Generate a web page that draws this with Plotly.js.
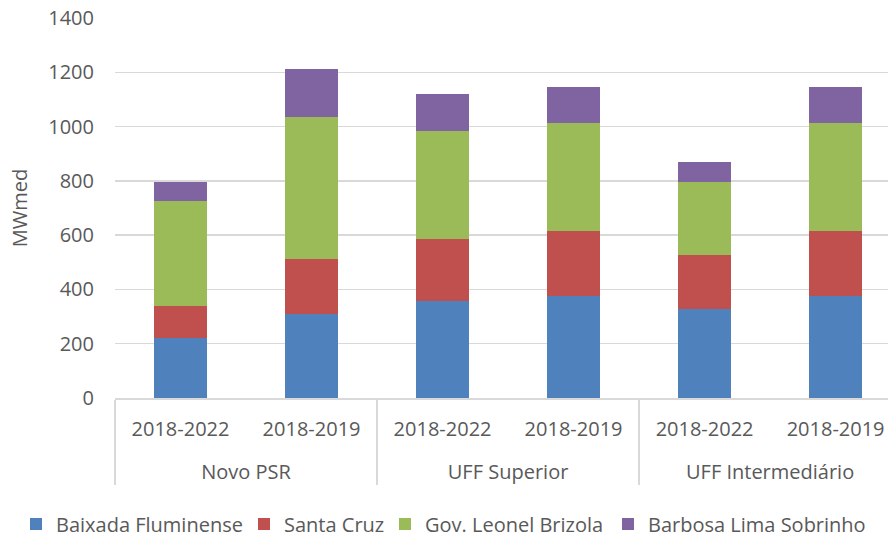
<!DOCTYPE html>
<html>
<head>
<meta charset="utf-8">
<script src="https://cdn.plot.ly/plotly-3.0.1.min.js"></script>
<style>html,body{margin:0;padding:0;background:#fff;}#chart{width:888px;height:540px;}</style>
</head>
<body>
<div id="chart"></div>
<script>
var groups = ["Novo PSR", "Novo PSR", "UFF Superior", "UFF Superior", "UFF Intermediário", "UFF Intermediário"];
var periods = ["2018-2022", "2018-2019", "2018-2022", "2018-2019", "2018-2022", "2018-2019"];
var seriesNames = ["Baixada Fluminense", "Santa Cruz", "Gov. Leonel Brizola", "Barbosa Lima Sobrinho"];
var baixada = [220, 310, 358, 376, 327, 376];
var santaCruz = [120, 201, 229, 240, 200, 240];
var brizola = [386, 524, 398, 396, 270, 396];
var barbosa = [70, 176, 135, 133, 74, 133];
var yTicks = [0, 200, 400, 600, 800, 1000, 1200, 1400];

var colors = ["#4f81bd", "#c0504d", "#9bbb59", "#8064a2"];
var values = [baixada, santaCruz, brizola, barbosa];
var FONT = "Open Sans, sans-serif";
var TXT = "#595959";
var W = 888, H = 540;

var periodLabels = periods.map(function (p) { return p + "<br> "; });
var legendIds = ["legend", "legend2", "legend3", "legend4"];
var legendTextX = [57, 285, 426, 649];

var traces = values.map(function (v, i) {
  return {
    type: "bar",
    name: seriesNames[i],
    legend: legendIds[i],
    x: [groups, periodLabels],
    y: v,
    width: 0.4,
    marker: { color: colors[i], line: { width: 0 } },
    hoverinfo: "y+name"
  };
});

var layout = {
  width: W,
  height: H,
  barmode: "stack",
  paper_bgcolor: "#ffffff",
  plot_bgcolor: "#ffffff",
  margin: { l: 115, r: 0, t: 18, b: 142 },
  font: { family: FONT, size: 20, color: TXT },
  xaxis: {
    type: "multicategory",
    range: [-0.5, 5.4],
    showline: true,
    linecolor: "#d9d9d9",
    linewidth: 1.5,
    showgrid: false,
    ticks: "",
    ticklabelstandoff: 12,
    tickfont: { family: FONT, size: 20, color: TXT },
    showdividers: true,
    dividercolor: "#d9d9d9",
    dividerwidth: 1.5
  },
  yaxis: {
    range: [0, 1400],
    tickvals: yTicks,
    ticktext: yTicks.map(String),
    showgrid: true,
    gridcolor: "#d9d9d9",
    gridwidth: 1.5,
    zeroline: false,
    showline: false,
    ticks: "",
    ticklen: 0,
    ticklabelstandoff: 20,
    tickfont: { family: FONT, size: 20, color: TXT },
    title: { text: "MWmed", font: { family: FONT, size: 20, color: TXT }, standoff: 15 }
  },
  showlegend: true
};

legendIds.forEach(function (id, i) {
  layout[id] = {
    orientation: "h",
    x: (legendTextX[i] - 41) / W,
    xref: "container",
    xanchor: "left",
    y: (H - 524) / H,
    yref: "container",
    yanchor: "middle",
    font: { family: FONT, size: 20, color: TXT },
    itemwidth: 30,
    bgcolor: "rgba(0,0,0,0)"
  };
});

Plotly.newPlot("chart", traces, layout, { displayModeBar: false, staticPlot: true });
</script>
</body>
</html>
